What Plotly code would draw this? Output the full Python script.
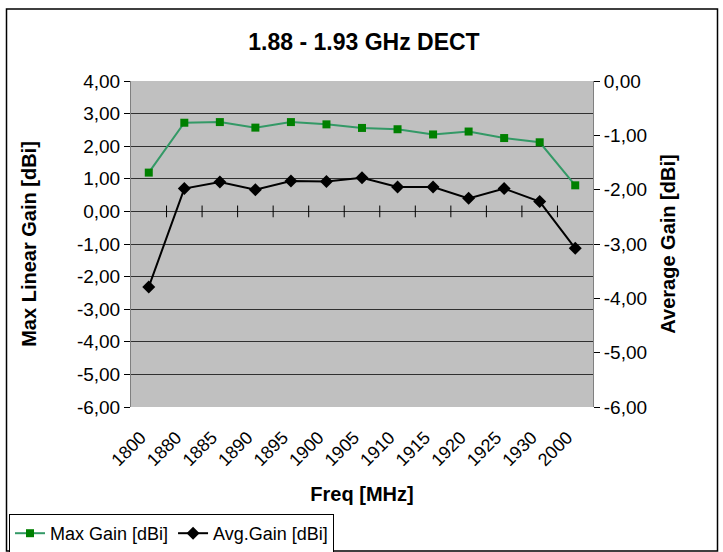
import plotly.graph_objects as go

freq_labels = ["1800", "1880", "1885", "1890", "1895", "1900", "1905",
               "1910", "1915", "1920", "1925", "1930", "2000"]
max_gain = [1.19, 2.72, 2.74, 2.57, 2.74, 2.67, 2.56, 2.52, 2.36, 2.45, 2.25, 2.12, 0.80]
avg_gain = [-3.79, -1.98, -1.86, -2.00, -1.84, -1.85, -1.78, -1.95, -1.95, -2.16, -1.98, -2.22, -3.08]

left_ticks = [-6, -5, -4, -3, -2, -1, 0, 1, 2, 3, 4]
left_tick_text = ["-6,00", "-5,00", "-4,00", "-3,00", "-2,00", "-1,00",
                  "0,00", "1,00", "2,00", "3,00", "4,00"]
right_ticks = [-6, -5, -4, -3, -2, -1, 0]
right_tick_text = ["-6,00", "-5,00", "-4,00", "-3,00", "-2,00", "-1,00", "0,00"]

W, H = 723, 552
L, R, T, B = 131, 593, 81, 407
pw, ph = R - L, B - T

def px(x):
    return (x - L) / pw

def py(y):
    return (B - y) / ph

FONT = "Liberation Sans, Arial, sans-serif"
idx = list(range(len(freq_labels)))

fig = go.Figure()
fig.add_trace(go.Scatter(
    x=idx, y=max_gain, name="Max Gain [dBi]", mode="lines+markers",
    line=dict(color="#339966", width=2),
    marker=dict(symbol="square", size=8, color="#008000"),
    yaxis="y"))
fig.add_trace(go.Scatter(
    x=idx, y=avg_gain, name="Avg.Gain [dBi]", mode="lines+markers",
    line=dict(color="#000000", width=2),
    marker=dict(symbol="diamond", size=10, color="#000000"),
    yaxis="y2"))

shapes = []
# x-axis cross ticks on the zero line, at category boundaries
for i in range(len(freq_labels) - 1):
    shapes.append(dict(type="line", xref="x", yref="y", x0=i + 0.5, x1=i + 0.5,
                       y0=-0.18, y1=0.18, line=dict(color="#000000", width=1)))
# outer chart frame
shapes.append(dict(type="rect", xref="paper", yref="paper",
                   x0=px(6.5), x1=px(717.5), y0=py(551), y1=py(9),
                   line=dict(color="#000000", width=1.5), layer="below"))

fig.update_layout(
    width=W, height=H,
    margin=dict(l=L, r=W - R, t=T, b=H - B, pad=0, autoexpand=False),
    paper_bgcolor="white", plot_bgcolor="#C0C0C0",
    font=dict(family=FONT, size=19, color="#000000"),
    title=dict(text="<b>1.88 - 1.93 GHz DECT</b>", x=364 / W, xanchor="center",
               y=1 - 42 / H, yanchor="middle", font=dict(size=23, family=FONT)),
    xaxis=dict(
        range=[-0.5, len(freq_labels) - 0.5],
        tickmode="array", tickvals=idx, ticktext=freq_labels,
        tickangle=-45, ticks="outside", ticklen=12, tickcolor="rgba(0,0,0,0)",
        ticklabelshift=-8,
        showgrid=False, zeroline=False, automargin=False,
        showline=False, tickfont=dict(size=18),
        title=dict(text="<b>Freq [MHz]</b>", font=dict(size=20), standoff=17),
    ),
    yaxis=dict(
        range=[-6, 4], tickmode="array", tickvals=left_ticks, ticktext=left_tick_text,
        showgrid=True, gridcolor="#303030", gridwidth=1, automargin=False,
        zeroline=False, showline=True, linecolor="#808080", linewidth=1,
        ticks="outside", ticklen=6, tickcolor="#000000",
        tickfont=dict(size=19),
        title=dict(text="<b>Max Linear Gain [dBi]</b>", font=dict(size=20), standoff=34),
    ),
    yaxis2=dict(
        range=[-6, 0], tickmode="array", tickvals=right_ticks, ticktext=right_tick_text,
        overlaying="y", side="right", automargin=False,
        showgrid=False, zeroline=False, showline=True, linecolor="#808080", linewidth=1,
        ticks="outside", ticklen=6, tickcolor="#000000",
        tickfont=dict(size=19),
        title=dict(text="<b>Average Gain [dBi]</b>", font=dict(size=20), standoff=14),
    ),
    legend=dict(
        orientation="h", x=px(9), y=py(514), xanchor="left", yanchor="top",
        bordercolor="#000000", borderwidth=1, bgcolor="white",
        font=dict(size=18, family=FONT), itemwidth=30, tracegroupgap=0,
    ),
    shapes=shapes,
    showlegend=True,
)

fig.write_html("out.html", config={"displayModeBar": False},
               post_script="document.body.style.margin='0';document.body.style.padding='0';")
